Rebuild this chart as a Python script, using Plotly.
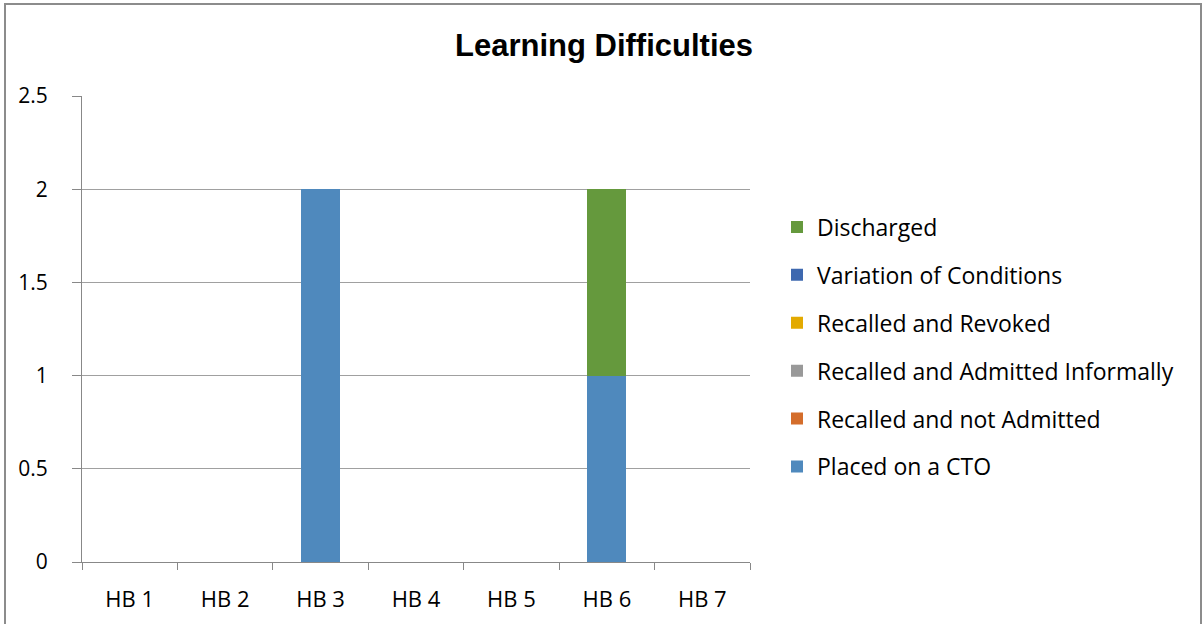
import plotly.graph_objects as go

categories = ["HB 1", "HB 2", "HB 3", "HB 4", "HB 5", "HB 6", "HB 7"]
placed_cto = [0, 0, 2, 0, 0, 1, 0]
recalled_not_admitted = [0, 0, 0, 0, 0, 0, 0]
recalled_admitted_informally = [0, 0, 0, 0, 0, 0, 0]
recalled_revoked = [0, 0, 0, 0, 0, 0, 0]
variation_conditions = [0, 0, 0, 0, 0, 0, 0]
discharged = [0, 0, 0, 0, 0, 1, 0]

series = [
    ("Placed on a CTO", placed_cto, "#4F89BD"),
    ("Recalled and not Admitted", recalled_not_admitted, "#D46D2B"),
    ("Recalled and Admitted Informally", recalled_admitted_informally, "#999999"),
    ("Recalled and Revoked", recalled_revoked, "#E3AA00"),
    ("Variation of Conditions", variation_conditions, "#3E68AF"),
    ("Discharged", discharged, "#65993D"),
]

fig = go.Figure()
for i, (name, vals, col) in enumerate(series):
    fig.add_trace(go.Bar(
        x=categories, y=vals, name=name, legendgroup=str(i),
        legendrank=1000 - i,
        marker=dict(color=col, line=dict(width=0)),
    ))

W, H = 1203, 624
L, R, T, B = 82, 453, 96, 62
pw, ph = W - L - R, H - T - B

def px(x):
    return (x - L) / pw

def py(y):
    return (H - B - y) / ph

fig.update_layout(
    width=W, height=H,
    barmode="stack", bargap=0.59,
    plot_bgcolor="white", paper_bgcolor="white",
    margin=dict(l=L, r=R, t=T, b=B),
    font=dict(family="Open Sans, sans-serif", size=21, color="#000000"),
    title=dict(text="<b>Learning Difficulties</b>", x=px(604), xref="paper", xanchor="center",
               y=1 - 45 / H, yanchor="middle",
               font=dict(family="Liberation Sans, Arial", size=31, color="#000000")),
    xaxis=dict(showgrid=False, showline=True, linecolor="#888888", linewidth=1,
               ticks="outside", tickson="boundaries", ticklen=7, tickcolor="#888888",
               tickfont=dict(size=22), ticklabelstandoff=18),
    yaxis=dict(range=[0, 2.5], dtick=0.5, showgrid=True, gridcolor="#A0A0A0", gridwidth=1,
               showline=True, linecolor="#888888", linewidth=1, zeroline=False,
               ticks="outside", ticklen=9, tickcolor="#888888", tickfont=dict(size=21),
               ticklabelstandoff=20),
    legend=dict(x=px(777), xanchor="left", y=py(347), yanchor="middle",
                traceorder="grouped", tracegroupgap=15, font=dict(size=23),
                bgcolor="rgba(0,0,0,0)"),
    showlegend=True,
)

fig.add_shape(type="rect", xref="paper", yref="paper",
              x0=px(5), x1=px(1201), y0=py(630), y1=py(4),
              line=dict(color="#8C8C8C", width=2), fillcolor="rgba(0,0,0,0)", layer="below")

fig.write_html("out.html", config={"displayModeBar": False},
               post_script="document.body.style.margin='0';")
